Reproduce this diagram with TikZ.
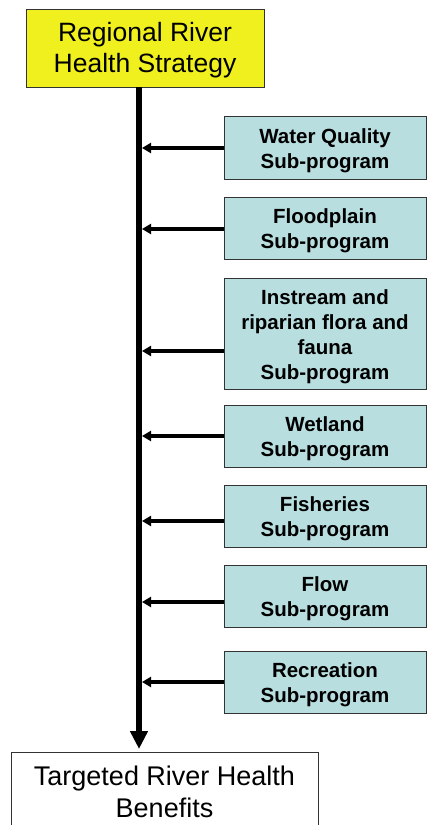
\documentclass[tikz,border=0pt]{standalone}
\usepackage{fontspec}
\setmainfont{Liberation Sans}
\usetikzlibrary{arrows.meta}
\definecolor{topyellow}{RGB}{240,240,30}
\definecolor{subblue}{RGB}{184,222,224}
\newcommand{\droplines}[2]{\raisebox{-#1}[\height][\depth]{\begin{tabular}{@{}c@{}}#2\end{tabular}}}
\tikzset{
  x=1pt,y=-1pt,
  topbox/.style={draw=black!80,line width=0.8pt,fill=topyellow,minimum width=238pt,minimum height=78pt,align=center,font=\fontsize{26.5}{31}\selectfont,inner sep=0pt},
  endbox/.style={draw=black!80,line width=0.8pt,fill=white,minimum width=307pt,minimum height=90pt,align=center,inner sep=0pt},
  subbox/.style={draw=black!80,line width=0.8pt,fill=subblue,minimum width=202pt,font=\bfseries\fontsize{20.5}{25}\selectfont,inner sep=0pt},
  feed/.style={line width=3.5pt,-{Triangle[length=9pt,width=10pt]}},
  spine/.style={line width=6pt,-{Triangle[length=18pt,width=17pt]}}
}
\begin{document}
\begin{tikzpicture}
\useasboundingbox (0,0) rectangle (426,825);
\node[topbox] (top) at (145,48) {\droplines{3pt}{Regional River\\Health Strategy}};
\begin{scope}
\clip (0,0) rectangle (426,825);
\node[endbox,anchor=north west] (bot) at (11,752) {};
\node[font=\fontsize{27}{32}\selectfont,align=center] (bottxt) at (164.5,792) {Targeted River Health\\Benefits};
\end{scope}
\node[subbox,minimum height=63pt] (s1) at (325,147.5) {\droplines{3pt}{Water Quality\\Sub-program}};
\node[subbox,minimum height=62pt] (s2) at (325,228) {\droplines{3pt}{Floodplain\\Sub-program}};
\node[subbox,minimum height=111pt] (s3) at (325,333.5) {\droplines{3pt}{Instream and\\riparian flora and\\fauna\\Sub-program}};
\node[subbox,minimum height=62pt] (s4) at (325,436) {\droplines{3pt}{Wetland\\Sub-program}};
\node[subbox,minimum height=62pt] (s5) at (325,516) {\droplines{3pt}{Fisheries\\Sub-program}};
\node[subbox,minimum height=62pt] (s6) at (325,596) {\droplines{3pt}{Flow\\Sub-program}};
\node[subbox,minimum height=62pt] (s7) at (325,682) {\droplines{3pt}{Recreation\\Sub-program}};
\coordinate (spinetop) at (139,87);
\coordinate (spinebot) at (139,749);
\draw[spine] (spinetop) -- (spinebot);
\foreach \s/\yy in {s1/148,s2/229,s3/351,s4/436,s5/521,s6/602,s7/682}{
  \coordinate (t\s) at (142,\yy);
  \draw[feed] (\s.west |- t\s) -- (t\s);
}
\end{tikzpicture}
\end{document}
